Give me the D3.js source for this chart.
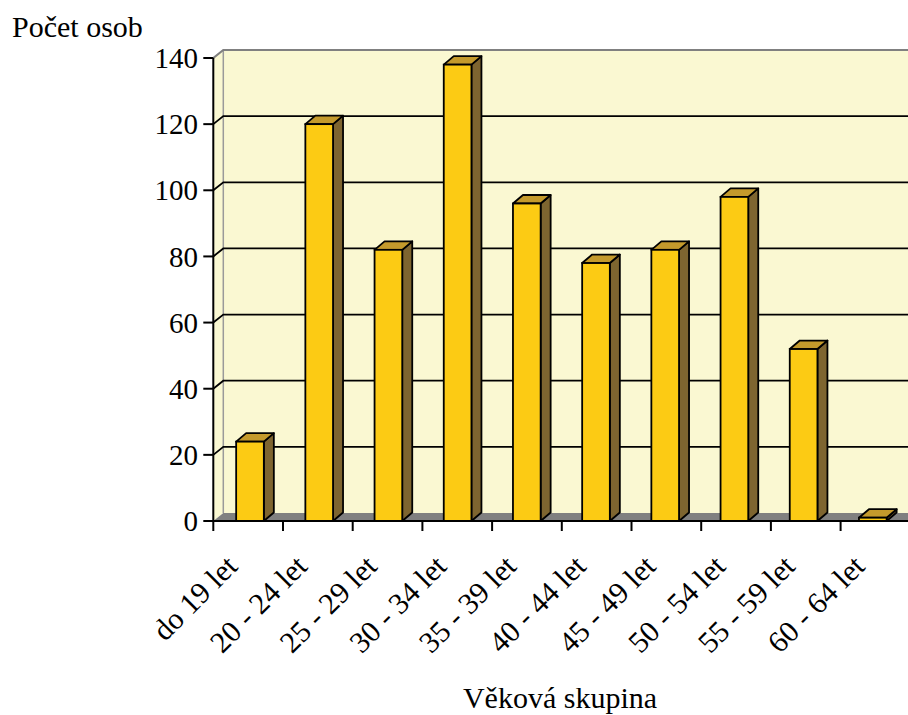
<!DOCTYPE html>
<html>
<head>
<meta charset="utf-8">
<script src="https://cdn.jsdelivr.net/npm/d3@7"></script>
<style>
  body { margin: 0; background: #fff; }
  svg text { font-family: "Times New Roman", "Liberation Serif", "DejaVu Serif", serif; }
</style>
</head>
<body>
<div id="chart"></div>
<script>
"use strict";
// data
var categories = ["do 19 let", "20 - 24 let", "25 - 29 let", "30 - 34 let", "35 - 39 let",
                  "40 - 44 let", "45 - 49 let", "50 - 54 let", "55 - 59 let", "60 - 64 let"];
var values = [24, 120, 82, 138, 96, 78, 82, 98, 52, 1];
var yTicks = [0, 20, 40, 60, 80, 100, 120, 140];
var yTitle = "Počet osob";
var xTitle = "Věková skupina";

(function draw() {
  var W = 908, H = 715;
  var left = 213.3, right = 910.3, top = 58, bottom = 521;
  var dx = 10, dy = -8;     // depth of the walls
  var bdx = 10, bdy = -8.5; // depth of the bars

  var svg = d3.select('#chart').append('svg').attr('width', W).attr('height', H);

  var x = d3.scaleBand().domain(categories).range([left, right]);
  var xBar = d3.scaleBand().domain(categories).range([215.4, 907.4]).paddingInner(0.6).paddingOuter(0.3);
  var y = d3.scaleLinear().domain([0, 140]).range([bottom, top]);

  // walls and floor
  svg.append('rect').attr('x', left + dx).attr('y', y(140) + dy)
    .attr('width', right - left).attr('height', y(0) - y(140)).attr('fill', '#FAF8D2');
  svg.append('polygon').attr('points', [[left, y(140)], [left + dx, y(140) + dy], [left + dx, y(0) + dy], [left, y(0)]].join(' '))
    .attr('fill', '#FAF8D2');
  svg.append('polygon').attr('points', [[left, y(0)], [left + dx, y(0) + dy], [right + dx, y(0) + dy], [right, y(0)]].join(' '))
    .attr('fill', '#808080');
  svg.append('line').attr('x1', left + dx).attr('x2', left + dx).attr('y1', y(140) + dy).attr('y2', y(0) + dy)
    .attr('stroke', '#9a9a9a').attr('stroke-width', 1.5);

  // gridlines
  yTicks.forEach(function(v) {
    if (v === 0) return;
    var top140 = v === 140;
    svg.append('polyline')
      .attr('points', [[left, y(v)], [left + dx, y(v) + dy], [right + dx, y(v) + dy]].join(' '))
      .attr('fill', 'none').attr('stroke', top140 ? '#808080' : '#000').attr('stroke-width', top140 ? 2.2 : 1.8);
  });

  // bars
  var bw = xBar.bandwidth();
  var bars = svg.append('g').selectAll('g').data(values).enter().append('g');
  bars.append('polygon').attr('points', function(v, i) {
    var bx = xBar(categories[i]), yt = y(v);
    return [[bx + bw, yt], [bx + bw + bdx, yt + bdy], [bx + bw + bdx, y(0) + bdy], [bx + bw, y(0)]].join(' ');
  }).attr('fill', '#7E6530').attr('stroke', '#000').attr('stroke-width', 1.8).attr('stroke-linejoin', 'round');
  bars.append('polygon').attr('points', function(v, i) {
    var bx = xBar(categories[i]), yt = y(v);
    return [[bx, yt], [bx + bdx, yt + bdy], [bx + bw + bdx, yt + bdy], [bx + bw, yt]].join(' ');
  }).attr('fill', '#C49A2C').attr('stroke', '#000').attr('stroke-width', 1.8).attr('stroke-linejoin', 'round');
  bars.append('rect')
    .attr('x', function(v, i) { return xBar(categories[i]); })
    .attr('y', function(v) { return y(v); })
    .attr('width', bw)
    .attr('height', function(v) { return y(0) - y(v); })
    .attr('fill', '#FCCB14').attr('stroke', '#000').attr('stroke-width', 1.8);

  // y axis
  svg.append('line').attr('x1', left).attr('x2', left).attr('y1', y(140)).attr('y2', y(0))
    .attr('stroke', '#000').attr('stroke-width', 2);
  var yt = svg.append('g').selectAll('g').data(yTicks).enter().append('g');
  yt.append('line').attr('x1', left - 10).attr('x2', left).attr('y1', function(d) { return y(d); }).attr('y2', function(d) { return y(d); })
    .attr('stroke', '#000').attr('stroke-width', 2);
  yt.append('text').attr('x', 198).attr('y', function(d) { return y(d); }).attr('dy', '0.35em')
    .attr('text-anchor', 'end').attr('font-size', 29).text(function(d) { return d; });

  // x axis
  svg.append('line').attr('x1', left).attr('x2', right).attr('y1', y(0)).attr('y2', y(0))
    .attr('stroke', '#000').attr('stroke-width', 2);
  var xTickPos = categories.map(function(c) { return x(c); }).concat([right]);
  svg.append('g').selectAll('line').data(xTickPos).enter().append('line')
    .attr('x1', function(d) { return d; }).attr('x2', function(d) { return d; })
    .attr('y1', y(0)).attr('y2', y(0) + 10).attr('stroke', '#000').attr('stroke-width', 2);
  svg.append('g').selectAll('text').data(categories).enter().append('text')
    .attr('transform', function(c) { return 'translate(' + (x(c) + x.bandwidth() / 2 - 9) + ',568) rotate(-45)'; })
    .attr('text-anchor', 'end').attr('font-size', 30).text(function(c) { return c; });

  // titles
  svg.append('text').attr('x', 12).attr('y', 37).attr('font-size', 30).text(yTitle);
  svg.append('text').attr('x', 560).attr('y', 708).attr('text-anchor', 'middle').attr('font-size', 30).text(xTitle);
})();
</script>
</body>
</html>
